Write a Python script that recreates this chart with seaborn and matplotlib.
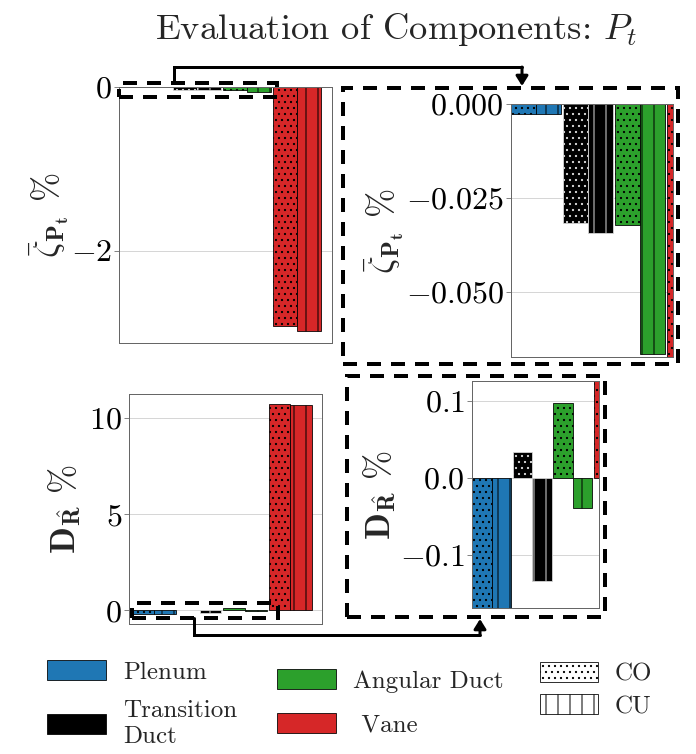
import numpy as np
import pandas as pd
import matplotlib
matplotlib.use("Agg")
import matplotlib.pyplot as plt
import seaborn as sns
from matplotlib.patches import Rectangle, FancyArrowPatch, Patch
from matplotlib.lines import Line2D

# ---- data ---------------------------------------------------------------
components = ["Plenum", "Transition Duct", "Angular Duct", "Vane"]
variants = ["CO", "CU"]
colors = ["#1f77b4", "#000000", "#2ca02c", "#d62728"]
hatches = {"CO": "..", "CU": "|"}

zeta_co = [-0.0027, -0.0316, -0.0322, -2.92]
zeta_cu = [-0.0027, -0.0344, -0.0665, -2.98]
dr_co = [-0.169, 0.034, 0.097, 10.72]
dr_cu = [-0.169, -0.134, -0.039, 10.67]

zeta_ticks_full = [0, -2]
zeta_ticks_zoom = [0.0, -0.025, -0.05]
dr_ticks_full = [0, 5, 10]
dr_ticks_zoom = [-0.1, 0.0, 0.1]

# ---- style --------------------------------------------------------------
sns.set_style("whitegrid", {
    "axes.edgecolor": "0.4",
    "grid.color": "0.8",
    "ytick.left": True,
})
plt.rcParams["font.family"] = ["cmr10", "DejaVu Serif"]
plt.rcParams["mathtext.fontset"] = "cm"
plt.rcParams["axes.formatter.use_mathtext"] = True
plt.rcParams["axes.unicode_minus"] = True
plt.rcParams["hatch.linewidth"] = 1.0
plt.rcParams["ytick.major.size"] = 5
plt.rcParams["ytick.color"] = "0.4"
plt.rcParams["ytick.labelcolor"] = "black"

W, H = 696, 754
DPI = 72
fig = plt.figure(figsize=(W / DPI, H / DPI), dpi=DPI)


def px_rect(l, t, r, b):
    return [l / W, 1 - b / H, (r - l) / W, (b - t) / H]


def px(x, y):
    return (x / W, 1 - y / H)


def make_frame(co, cu, metric):
    return pd.DataFrame({
        "component": components * 2,
        "variant": ["CO"] * 4 + ["CU"] * 4,
        metric: list(co) + list(cu),
    })


def draw_bars(ax, df, metric):
    sns.barplot(data=df, x="component", y=metric, hue="variant",
                order=components, hue_order=variants, width=0.96, gap=0,
                palette=["white", "white"], edgecolor="black", linewidth=0.8,
                legend=False, ax=ax, errorbar=None)
    for cont, var in zip(ax.containers, variants):
        for bar, col in zip(cont, colors):
            bar.set_facecolor(col)
            bar.set_hatch(hatches[var])
            bar.set_edgecolor("0.85" if col == "#000000" else "black")
    ax.set_xticks([])
    ax.set_xlabel("")
    ax.set_ylabel("")
    ax.grid(axis="x", visible=False)
    ax.tick_params(axis="y", labelsize=32, pad=2)
    for s in ax.spines.values():
        s.set_linewidth(1.0)


zeta_df = make_frame(zeta_co, zeta_cu, "zeta")
dr_df = make_frame(dr_co, dr_cu, "dr")

zeta_label = r"$\bar{\zeta}_{\mathbf{P_t}}$ %"
dr_label = r"$\mathbf{D}_{\hat{\mathbf{R}}}$ %"
label_size = 35

full_xlim = (-0.56, 3.70)
zoom_xlim = (-0.48, 2.64)

# top-left: full range of the loss coefficient
ax_tl = fig.add_axes(px_rect(119, 87, 332, 343))
draw_bars(ax_tl, zeta_df, "zeta")
ax_tl.set_xlim(full_xlim)
ax_tl.set_ylim(-3.13, 0)
ax_tl.set_yticks(zeta_ticks_full)
ax_tl.set_ylabel(zeta_label, fontsize=label_size, labelpad=0)

# top-right: zoom on the small components
ax_tr = fig.add_axes(px_rect(511, 104, 673, 357))
draw_bars(ax_tr, zeta_df, "zeta")
ax_tr.set_xlim(zoom_xlim)
ax_tr.set_ylim(-0.0673, 0)
ax_tr.set_yticks(zeta_ticks_zoom)
ax_tr.yaxis.set_major_formatter(matplotlib.ticker.FormatStrFormatter(r"$%.3f$"))
ax_tr.set_ylabel(zeta_label, fontsize=label_size, labelpad=0)

# bottom-left: full range of the deviation
ax_bl = fig.add_axes(px_rect(129, 394, 322, 624))
draw_bars(ax_bl, dr_df, "dr")
ax_bl.set_xlim(full_xlim)
ax_bl.set_ylim(-0.71, 11.26)
ax_bl.set_yticks(dr_ticks_full)
ax_bl.set_ylabel(dr_label, fontsize=label_size, labelpad=6)

# bottom-right: zoom on the small components
ax_br = fig.add_axes(px_rect(472, 381, 599, 608))
draw_bars(ax_br, dr_df, "dr")
ax_br.set_xlim(zoom_xlim)
ax_br.set_ylim(-0.169, 0.1256)
ax_br.set_yticks(dr_ticks_zoom)
ax_br.yaxis.set_major_formatter(matplotlib.ticker.FormatStrFormatter(r"$%.1f$"))
ax_br.set_ylabel(dr_label, fontsize=label_size, labelpad=2)

# ---- zoom indicators ----------------------------------------------------
dash = (0, (3.5, 2.5))


def dashed_box(l, t, r, b):
    x0, y0 = px(l, b)
    x1, y1 = px(r, t)
    fig.add_artist(Rectangle((x0, y0), x1 - x0, y1 - y0, fill=False,
                             edgecolor="black", linewidth=4, linestyle=dash,
                             transform=fig.transFigure, zorder=10))


def elbow_arrow(points):
    xs, ys = zip(*[px(x, y) for x, y in points[:-1]])
    fig.add_artist(Line2D(xs, ys, color="black", linewidth=3,
                          transform=fig.transFigure, zorder=10,
                          solid_joinstyle="miter"))
    fig.add_artist(FancyArrowPatch(px(*points[-2]), px(*points[-1]),
                                   transform=fig.transFigure,
                                   arrowstyle="-|>,head_length=8,head_width=5",
                                   linewidth=3, color="black", zorder=10,
                                   shrinkA=0, shrinkB=0))


dashed_box(119, 83, 277, 97)
dashed_box(343, 88, 678, 364)
elbow_arrow([(174, 83), (174, 67), (522, 67), (522, 86)])

dashed_box(132, 603, 278, 618)
dashed_box(347, 376, 605, 617)
elbow_arrow([(194, 618), (194, 635), (480, 635), (480, 619)])

# ---- title --------------------------------------------------------------
fig.text(396 / W, 1 - 30 / H, r"Evaluation of Components: $P_t$",
         fontsize=36.5, ha="center", va="center")

# ---- legends ------------------------------------------------------------
leg_kw = dict(frameon=False, fontsize=25, handlelength=2.35, handleheight=0.85,
              handletextpad=0.7, borderpad=0, borderaxespad=0, loc="center left")

h_comp = [Patch(facecolor=c, edgecolor="black", linewidth=0.8) for c in colors]
fig.legend(h_comp[:2], ["Plenum", "Transition\nDuct"], labelspacing=0.65,
           bbox_to_anchor=px(47, 704), **leg_kw)
fig.legend(h_comp[2:], ["Angular Duct", " Vane"], labelspacing=0.8,
           bbox_to_anchor=px(277, 703), **leg_kw)
h_var = [Patch(facecolor="white", edgecolor="black", linewidth=0.8, hatch=hatches[v])
         for v in variants]
fig.legend(h_var, variants, labelspacing=0.35, handlelength=2.3,
           bbox_to_anchor=px(540, 690), **{k: v for k, v in leg_kw.items()
                                             if k != "handlelength"})

fig.savefig("out.png", dpi=DPI)
